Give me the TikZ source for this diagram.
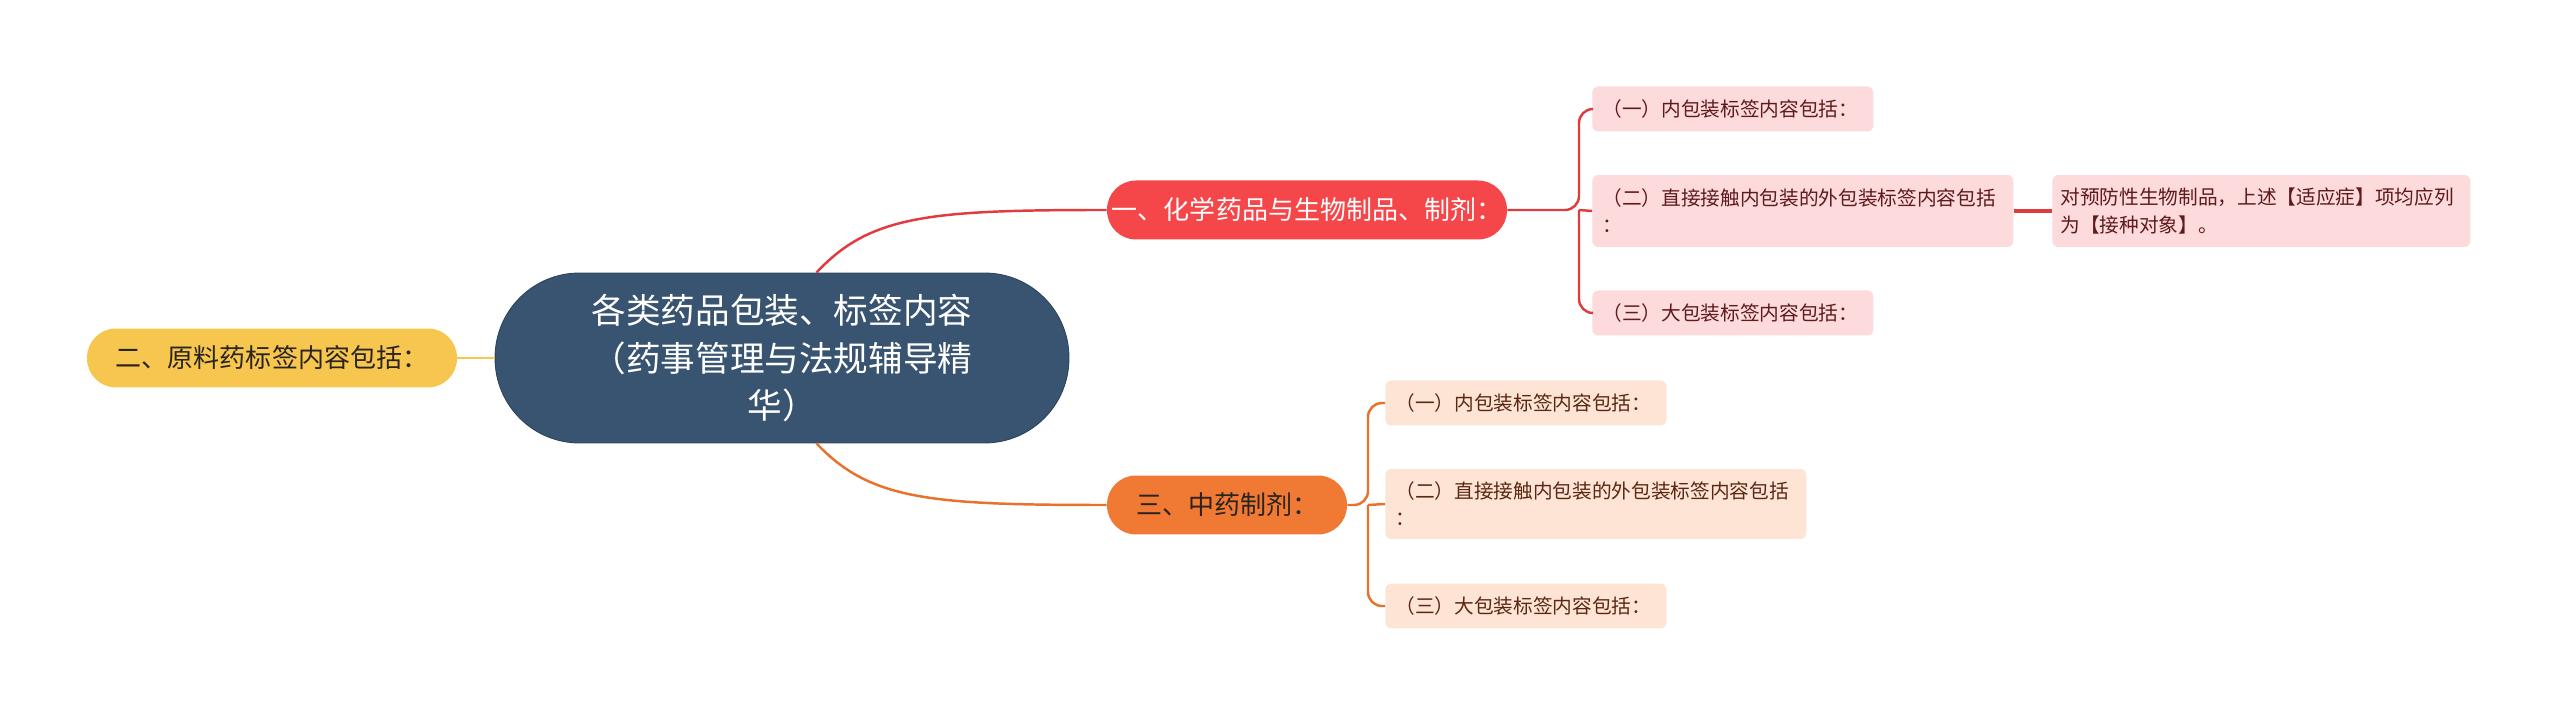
\documentclass[tikz,border=0pt]{standalone}
\usepackage{fontspec}
\setmainfont{Noto Sans CJK SC}
\definecolor{cblue}{HTML}{385470}
\definecolor{cblueb}{HTML}{2C445C}
\definecolor{cyellow}{HTML}{F7C64E}
\definecolor{cred}{HTML}{F5464A}
\definecolor{credline}{HTML}{E03B3F}
\definecolor{corange}{HTML}{F07933}
\definecolor{corangeline}{HTML}{E8712C}
\definecolor{cpink}{HTML}{FDDADB}
\definecolor{cpeach}{HTML}{FDE4D5}
\definecolor{cpinktext}{HTML}{5E1A1C}
\definecolor{cpeachtext}{HTML}{5A2812}
\definecolor{cdark}{HTML}{2A2420}
\begin{document}
\begin{tikzpicture}[x=0.02cm,y=-0.02cm,
  pill/.style={inner sep=0pt, minimum height=1.18cm, rounded corners=0.58cm,
    font=\fontsize{14.8}{18}\selectfont, align=center},
  childbox/.style={inner xsep=0.2cm, inner ysep=0pt, minimum height=0.9cm,
    rounded corners=0.12cm, anchor=west, align=left,
    font=\fontsize{11.2}{15.5}\selectfont},
  redchild/.style={childbox, fill=cpink, text=cpinktext},
  orchild/.style={childbox, fill=cpeach, text=cpeachtext},
  redlink/.style={draw=credline, line width=1.4pt, rounded corners=0.28cm},
  orlink/.style={draw=corangeline, line width=1.4pt, rounded corners=0.28cm}
]
\useasboundingbox (0,0) rectangle (2560,715);
\fill[white] (0,0) rectangle (2560,715);

% central node
\node[fill=cblue, draw=cblueb, line width=0.5pt, inner sep=0pt,
  minimum width=11.48cm, minimum height=3.4cm, rounded corners=1.69cm,
  text=white, font=\fontsize{19.7}{27}\selectfont, align=center]
  (c) at (782,358) {各类药品包装、标签内容\\（药事管理与法规辅导精\\华）};

% main branches
\node[pill, fill=cyellow, text=cdark, minimum width=7.4cm] (L) at (272,358) {二、原料药标签内容包括：};
\node[pill, fill=cred, text=white, minimum width=8.0cm] (R) at (1307,210) {一、化学药品与生物制品、制剂：};
\node[pill, fill=corange, text=cdark, minimum width=4.8cm] (O) at (1227,505) {三、中药制剂：};

% red children
\node[redchild, text width=5.22cm] (r1) at (1592,109) {（一）内包装标签内容包括：};
\node[redchild, text width=8.02cm, minimum height=1.44cm] (r2) at (1592,211) {（二）直接接触内包装的外包装标签内容包括\\：};
\node[redchild, text width=5.22cm] (r3) at (1592,313) {（三）大包装标签内容包括：};
\node[redchild, text width=8.04cm, minimum height=1.44cm, inner xsep=0.16cm] (rg) at (2052,211) {对预防性生物制品，上述【适应症】项均应列\\为【接种对象】。};

% orange children
\node[orchild, text width=5.22cm] (o1) at (1385,403) {（一）内包装标签内容包括：};
\node[orchild, text width=8.02cm, minimum height=1.40cm] (o2) at (1385,504) {（二）直接接触内包装的外包装标签内容包括\\：};
\node[orchild, text width=5.22cm] (o3) at (1385,606) {（三）大包装标签内容包括：};

% connectors from center
\draw[cyellow, line width=1.4pt] (L.east) -- (c.west);
\draw[credline, line width=1.4pt] (c.68) .. controls (870,215) and (930,210) .. (R.west);
\draw[corangeline, line width=1.4pt] (c.-68) .. controls (870,500) and (930,505) .. (O.west);

% red bracket
\coordinate (bR) at (1579,210);
\draw[redlink] (R.east) -- (bR) |- (r1.west);
\draw[redlink] (bR) -- (r2.west);
\draw[redlink] (bR) |- (r3.west);
\draw[credline, line width=2.2pt] (r2.east) -- (rg.west);

% orange bracket
\coordinate (bO) at (1368,505);
\draw[orlink] (O.east) -- (bO) |- (o1.west);
\draw[orlink] (bO) -- (o2.west);
\draw[orlink] (bO) |- (o3.west);
\end{tikzpicture}
\end{document}
